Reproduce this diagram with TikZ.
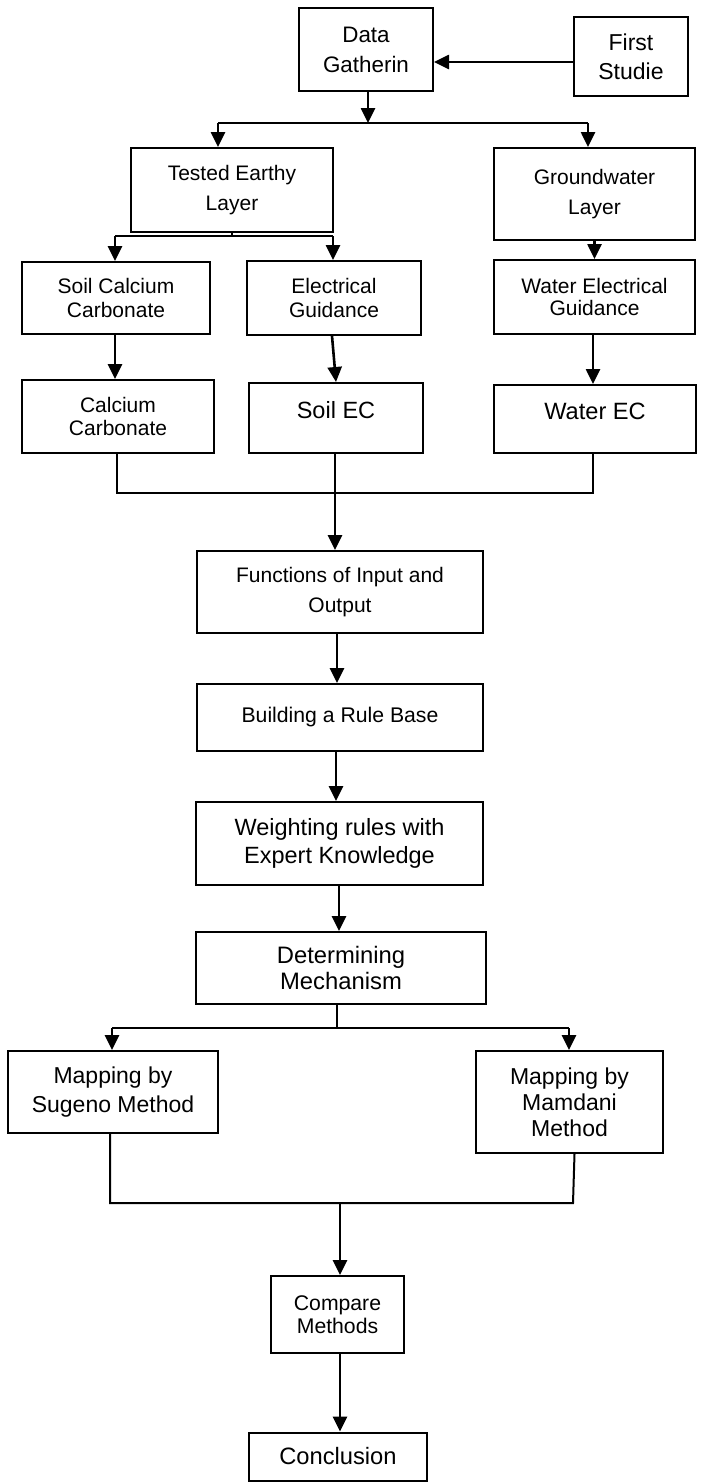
\documentclass[tikz,border=0pt]{standalone}
\usepackage{fontspec}
\setmainfont{Liberation Sans}
\usetikzlibrary{arrows.meta,calc}
\newcommand{\fs}[2]{\fontsize{#1}{#2}\selectfont}
\tikzset{
  box/.style={draw=black, line width=2pt, rectangle, inner sep=0pt, align=center, text=black},
  arr/.style={line width=2.6pt, -{Triangle[length=15pt,width=14pt]}},
  conn/.style={line width=2pt},
}
\begin{document}
\begin{tikzpicture}[x=1pt,y=-1pt]
\useasboundingbox (0,0) rectangle (702,1483);
\fill[white] (0,0) rectangle (702,1483);

% nodes (center, width, height)
\node[box, minimum width=134pt, minimum height=83pt, font=\fs{22.4}{30}] (data) at (366,49.5) {Data\\Gatherin};
\node[box, minimum width=114pt, minimum height=79pt, font=\fs{23}{29}] (first) at (631,56.5) {First\\Studie};
\node[box, minimum width=202pt, minimum height=84pt, font=\fs{21}{30}] (tested) at (232,190) {Tested Earthy\\Layer};
\node[box, minimum width=201pt, minimum height=92pt, font=\fs{21}{30}] (ground) at (594.5,194) {Groundwater\\Layer};
\node[box, minimum width=188pt, minimum height=72pt, font=\fs{21}{24}] (soilca) at (116,298) {Soil Calcium\\Carbonate};
\node[box, minimum width=174pt, minimum height=74pt, font=\fs{21}{24}] (elec) at (334,298) {Electrical\\Guidance};
\node[box, minimum width=201pt, minimum height=74pt, font=\fs{21}{22}] (watereg) at (594.5,297) {Water Electrical\\Guidance};
\node[box, minimum width=192pt, minimum height=73pt, font=\fs{21}{23}] (calc) at (118,416.5) {Calcium\\Carbonate};
\node[box, minimum width=174pt, minimum height=70pt, text depth=17pt, font=\fs{23.5}{28}] (soilec) at (336,418) {Soil EC};
\node[box, minimum width=202pt, minimum height=68pt, text depth=15pt, font=\fs{23.6}{28}] (waterec) at (595,419) {Water EC};
\node[box, minimum width=286pt, minimum height=82pt, font=\fs{21}{30}] (func) at (340,592) {Functions of Input and\\Output};
\node[box, minimum width=286pt, minimum height=67pt, font=\fs{21.2}{26}] (build) at (340,717.5) {Building a Rule Base};
\node[box, minimum width=287pt, minimum height=83pt, font=\fs{23.5}{28}] (weight) at (339.5,843.5) {Weighting rules with\\Expert Knowledge};
\node[box, minimum width=290pt, minimum height=72pt, font=\fs{23.8}{26}] (determ) at (341,968) {Determining\\Mechanism};
\node[box, minimum width=210pt, minimum height=82pt, font=\fs{23}{29}] (sugeno) at (113,1092) {Mapping by\\Sugeno Method};
\node[box, minimum width=187pt, minimum height=102pt, font=\fs{23}{26}] (mamdani) at (569.5,1102) {Mapping by\\Mamdani\\Method};
\node[box, minimum width=133pt, minimum height=77pt, font=\fs{21.2}{23}] (compare) at (337.5,1314.5) {Compare\\Methods};
\node[box, minimum width=178pt, minimum height=48pt, font=\fs{23.7}{28}] (concl) at (338,1456.5) {Conclusion};

% junction coordinates
\coordinate (j1) at (368,123);
\coordinate (j1l) at (218,123);
\coordinate (j1r) at (588,123);
\coordinate (j2) at (232,236);
\coordinate (j2l) at (115,236);
\coordinate (j2r) at (333,236);
\coordinate (j3) at (117,493);
\coordinate (j3r) at (593,493);
\coordinate (j3m) at (335,493);
\coordinate (j4) at (337,1028);
\coordinate (j4l) at (112,1028);
\coordinate (j4r) at (569,1028);
\coordinate (j5) at (110,1203);
\coordinate (j5r) at (573,1203);
\coordinate (j5m) at (340,1203);

% top section
\draw[arr] ($(first.west)+(0,5.5)$) -- ($(data.east)+(0,12.5)$);
\draw[arr] (data.south -| j1) -- (j1);
\draw[conn] (j1l) -- (j1r);
\draw[arr] (j1l) -- (tested.north -| j1l);
\draw[arr] (j1r) -- (ground.north -| j1r);

% tested split
\draw[conn] (tested.south) -- (j2);
\draw[conn] (j2l) -- (j2r);
\draw[arr] (j2l) -- (soilca.north -| j2l);
\draw[arr] (j2r) -- (elec.north -| j2r);
\draw[arr] (ground.south) -- (watereg.north);

% second level
\draw[arr] (soilca.south -| j2l) -- (calc.north -| j2l);
\draw[arr] ($(elec.south)+(-2,0)$) -- (soilec.north);
\draw[arr] (watereg.south -| j3r) -- (waterec.north -| j3r);

% merge
\draw[conn] (calc.south -| j3) -- (j3) -- (j3r) -- (waterec.south -| j3r);
\draw[arr] (soilec.south -| j3m) -- (func.north -| j3m);

% middle chain
\draw[arr] ($(func.south)+(-3,0)$) -- ($(build.north)+(-3,0)$);
\draw[arr] ($(build.south)+(-4,0)$) -- ($(weight.north)+(-3.5,0)$);
\draw[arr] ($(weight.south)+(-0.5,0)$) -- ($(determ.north)+(-2,0)$);

% determining split
\draw[conn] (determ.south -| j4) -- (j4);
\draw[conn] (j4l) -- (j4r);
\draw[arr] (j4l) -- (sugeno.north -| j4l);
\draw[arr] (j4r) -- (mamdani.north -| j4r);

% merge methods
\draw[conn] (sugeno.south -| j5) -- (j5) -- (j5r) -- ($(mamdani.south)+(5,0)$);
\draw[arr] (j5m) -- (compare.north -| j5m);
\draw[arr] (compare.south -| j5m) -- (concl.north -| j5m);
\end{tikzpicture}
\end{document}
